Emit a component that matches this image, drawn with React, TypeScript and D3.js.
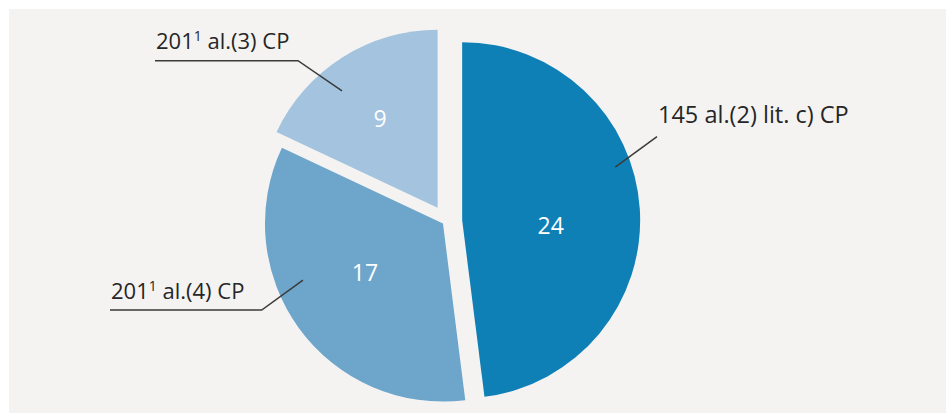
import React from "react";
import * as d3 from "d3";

const categories = ["145 al.(2) lit. c) CP", "201¹ al.(4) CP", "201¹ al.(3) CP"];
const labelMain = ["145 al.(2) lit. c) CP", "201", "201"];
const labelSup = ["", "1", "1"];
const labelRest = ["", " al.(4) CP", " al.(3) CP"];
const values = [24, 17, 9];
const colors = ["#0e80b6", "#6ea5cb", "#a3c3de"];

const W = 946;
const H = 413;
const CX = 446.2;
const CY = 221.2;
const R = 178;
const explode = [16, 4, 16];

// label layout: text anchor point, underline extent, leader target (polar in slice)
const labelLayout = [
  { tx: 658, ty: 123, fs: 23.5, ux1: 657, ux2: 854, uy: 136.7, elbowX: 657, leadR: 162, leadA: 70.9 },
  { tx: 111, ty: 299, fs: 22, ux1: 110, ux2: 261.7, uy: 310, elbowX: 261.7, leadR: 151, leadA: 248 },
  { tx: 156, ty: 49, fs: 22, ux1: 155, ux2: 298, uy: 60.7, elbowX: 298, leadR: 151, leadA: 320.7 },
];
const valueLayout = [
  { r: 88.6, a: 92.8 },
  { r: 91.6, a: 238.4 },
  { r: 107, a: 327.4 },
];

const FONT = "'Open Sans', sans-serif";

export default function App() {
  const pie = d3
    .pie<number>()
    .sort(null)
    .startAngle(0)
    .endAngle(2 * Math.PI)
    .value((d) => d);
  const arcs = pie(values);
  const arc = d3.arc<d3.PieArcDatum<number>>().innerRadius(0).outerRadius(R);

  const polar = (r: number, deg: number) => {
    const a = (deg * Math.PI) / 180;
    return [r * Math.sin(a), -r * Math.cos(a)];
  };

  return (
    <svg width={W} height={H} style={{ position: "absolute", left: 0, top: 0 }}>
      <rect x={0} y={0} width={W} height={H} fill="#ffffff" />
      <rect x={9} y={9} width={W - 9} height={H - 9} fill="#f4f3f2" />
      {arcs.map((a, i) => {
        const mid = (a.startAngle + a.endAngle) / 2;
        const ox = CX + explode[i] * Math.sin(mid);
        const oy = CY - explode[i] * Math.cos(mid);
        const [vx, vy] = polar(valueLayout[i].r, valueLayout[i].a);
        const L = labelLayout[i];
        const [lx, ly] = polar(L.leadR, L.leadA);
        return (
          <g key={categories[i]}>
            <g transform={`translate(${ox},${oy})`}>
              <path d={arc(a) || ""} fill={colors[i]} />
              <text
                x={vx}
                y={vy}
                textAnchor="middle"
                dominantBaseline="central"
                fill="#ffffff"
                fontFamily={FONT}
                fontSize={23}
              >
                {values[i]}
              </text>
            </g>
            <polyline
              points={`${L.ux1},${L.uy} ${L.elbowX},${L.uy} ${ox + lx},${oy + ly}`}
              fill="none"
              stroke="#3a3a3a"
              strokeWidth={1.5}
            />
            <text x={L.tx} y={L.ty} fill="#262626" fontFamily={FONT} fontSize={L.fs}>
              {labelMain[i]}
              {labelSup[i] && (
                <tspan fontSize={14} dy={-8}>
                  {labelSup[i]}
                </tspan>
              )}
              {labelRest[i] && <tspan dy={labelSup[i] ? 8 : 0}>{labelRest[i]}</tspan>}
            </text>
          </g>
        );
      })}
    </svg>
  );
}
